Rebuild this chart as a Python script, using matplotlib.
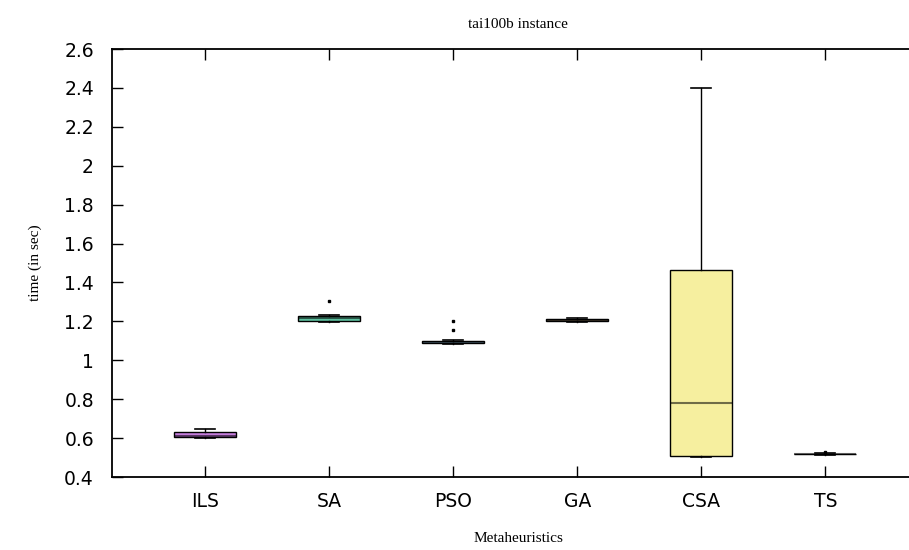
import matplotlib
matplotlib.use("Agg")
import matplotlib.pyplot as plt

# Run-time summary (seconds) of each metaheuristic on the tai100b instance
methods = ["ILS", "SA", "PSO", "GA", "CSA", "TS"]
whisker_low = [0.600, 1.195, 1.083, 1.198, 0.501, 0.513]
quartile_1 = [0.605, 1.200, 1.087, 1.203, 0.509, 0.516]
medians = [0.612, 1.215, 1.093, 1.209, 0.778, 0.518]
quartile_3 = [0.631, 1.230, 1.100, 1.214, 1.466, 0.520]
whisker_high = [0.648, 1.232, 1.102, 1.216, 2.400, 0.522]
outliers = [[], [1.305], [1.155, 1.202], [], [], [0.528]]
colors = ["#c87ee0", "#5fc4a2", "#9fd4f0", "#a08868", "#f6ef9f", "#404040"]

stats = []
for i, name in enumerate(methods):
    stats.append({
        "label": name,
        "whislo": whisker_low[i],
        "q1": quartile_1[i],
        "med": medians[i],
        "q3": quartile_3[i],
        "whishi": whisker_high[i],
        "fliers": outliers[i],
    })

fig = plt.figure(figsize=(9.09, 5.5), dpi=100)
ax = fig.add_axes([0.1232, 0.1327, 0.894, 0.7782])

bp = ax.bxp(
    stats,
    positions=range(1, len(methods) + 1),
    widths=0.5,
    capwidths=0.16,
    patch_artist=True,
    boxprops=dict(linewidth=1.0, edgecolor="black"),
    whiskerprops=dict(linewidth=1.0, color="black"),
    capprops=dict(linewidth=1.2, color="black"),
    medianprops=dict(linewidth=1.5, color="black", alpha=0.55),
    flierprops=dict(marker="s", markersize=2, markerfacecolor="black",
                    markeredgecolor="black"),
)
for patch, c in zip(bp["boxes"], colors):
    patch.set_facecolor(c)

ax.set_xlim(0.25, 6.8)
ax.set_ylim(0.4, 2.6)
ax.set_yticks([0.4 + 0.2 * k for k in range(12)])
ax.set_yticklabels(["0.4", "0.6", "0.8", "1", "1.2", "1.4", "1.6", "1.8",
                    "2", "2.2", "2.4", "2.6"])
ax.set_xticks(range(1, len(methods) + 1))
ax.set_xticklabels(methods)

for lab in ax.get_xticklabels() + ax.get_yticklabels():
    lab.set_family("DejaVu Sans")
    lab.set_fontsize(13.5)

ax.tick_params(axis="both", direction="in", length=8, width=1.0)
ax.tick_params(axis="y", pad=13)
ax.tick_params(axis="x", top=True, pad=11)
for s in ax.spines.values():
    s.set_linewidth(1.3)

ax.set_title("tai100b instance", family="Liberation Serif", fontsize=11, pad=15)
ax.set_xlabel("Metaheuristics", family="Liberation Serif", fontsize=11, labelpad=15)
ax.set_ylabel("time (in sec)", family="Liberation Serif", fontsize=11, labelpad=16)

fig.savefig("out.png", dpi=100)
